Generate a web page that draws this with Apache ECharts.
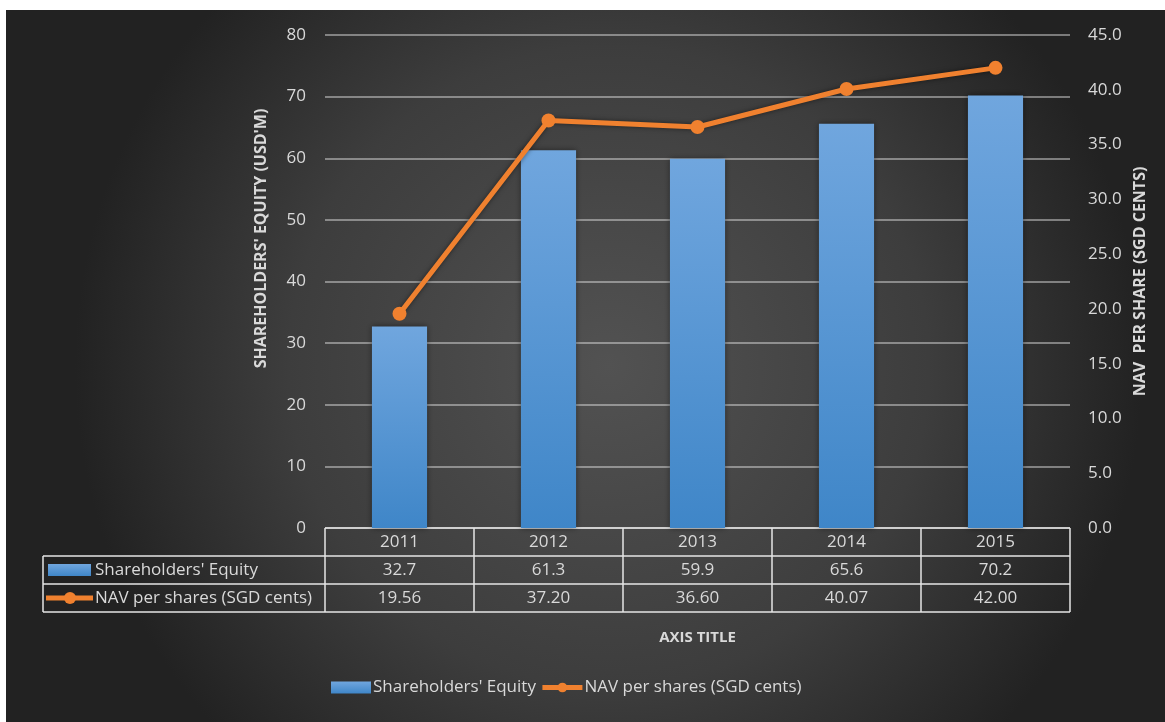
<!DOCTYPE html>
<html>
<head>
<meta charset="utf-8">
<script src="https://cdn.jsdelivr.net/npm/echarts@6/dist/echarts.min.js"></script>
<style>
  html, body { margin: 0; padding: 0; background: #fff; }
  #main { position: absolute; left: 6px; top: 10px; width: 1159px; height: 712px; }
</style>
</head>
<body>
<div id="main"></div>
<script>
const years = ['2011', '2012', '2013', '2014', '2015'];
const equity = [32.7, 61.3, 59.9, 65.6, 70.2];
const nav = [19.56, 37.20, 36.60, 40.07, 42.00];
const equityName = "Shareholders' Equity";
const navName = 'NAV per shares (SGD cents)';

const txt = '#d9d9d9';
const font = '"Open Sans", Lato, sans-serif';
const orange = '#f0812f';

const chartDom = document.getElementById('main');
const myChart = echarts.init(chartDom);

const gridLeft = 319, gridRight = 95, gridTop = 25, gridBottom = 194;
const rowH = 28;

const option = {
  backgroundColor: {
    type: 'radial', x: 0.52, y: 0.5, r: 0.75,
    colorStops: [
      { offset: 0, color: '#525252' },
      { offset: 0.6, color: '#3d3d3d' },
      { offset: 1, color: '#222222' }
    ]
  },
  textStyle: { fontFamily: font },
  grid: { left: gridLeft, right: gridRight, top: gridTop, bottom: gridBottom },
  legend: {
    bottom: 21,
    left: 320,
    itemWidth: 40,
    itemHeight: 12,
    itemGap: 4,
    textStyle: { color: txt, fontSize: 17, fontFamily: font, padding: [0, 0, 0, -3] },
    data: [
      { name: equityName, icon: 'rect' },
      { name: navName, lineStyle: { width: 5 } }
    ]
  },
  xAxis: {
    type: 'category',
    data: years,
    name: 'AXIS TITLE',
    nameLocation: 'middle',
    nameGap: 102,
    nameTextStyle: { color: txt, fontWeight: 'bold', fontSize: 15 },
    axisLine: { show: false },
    axisTick: { show: false },
    axisLabel: { show: false }
  },
  yAxis: [
    {
      type: 'value',
      min: 0, max: 80, interval: 10,
      name: "SHAREHOLDERS' EQUITY (USD'M)",
      nameLocation: 'middle',
      nameGap: 56,
      nameRotate: 90,
      nameTextStyle: { color: txt, fontWeight: 'bold', fontSize: 16, padding: [0, 0, 0, 86] },
      axisLabel: { color: txt, fontSize: 17, margin: 19 },
      splitLine: { lineStyle: { color: 'rgba(235,235,235,0.6)', width: 1.5 } }
    },
    {
      type: 'value',
      min: 0, max: 45, interval: 5,
      name: 'NAV  PER SHARE (SGD CENTS)',
      nameLocation: 'middle',
      nameGap: 60,
      nameRotate: 90,
      nameTextStyle: { color: txt, fontWeight: 'bold', fontSize: 16 },
      axisLabel: { color: txt, fontSize: 17, margin: 18, formatter: v => v.toFixed(1) },
      splitLine: { show: false }
    }
  ],
  series: [
    {
      name: equityName,
      type: 'bar',
      barWidth: '37%',
      data: equity,
      itemStyle: {
        color: new echarts.graphic.LinearGradient(0, 0, 0, 1, [
          { offset: 0, color: '#70a6de' },
          { offset: 1, color: '#3f86c8' }
        ]),
        shadowBlur: 6,
        shadowColor: 'rgba(0,0,0,0.45)'
      }
    },
    {
      name: navName,
      type: 'line',
      yAxisIndex: 1,
      data: nav,
      symbol: 'circle',
      symbolSize: 14,
      lineStyle: { color: orange, width: 5, shadowBlur: 5, shadowColor: 'rgba(0,0,0,0.5)' },
      itemStyle: { color: orange }
    }
  ]
};
myChart.setOption(option);

// data table under the plot, placed from the category axis scale
const c0 = myChart.convertToPixel({ xAxisIndex: 0 }, years[0]);
const c1 = myChart.convertToPixel({ xAxisIndex: 0 }, years[1]);
const band = c1 - c0;
const tableTop = chartDom.clientHeight - gridBottom;
const tLeft = 37;
const plotL = c0 - band / 2;
const plotR = plotL + band * years.length;
const lineStyle = { stroke: '#e6e6e6', lineWidth: 1.5 };
const g = [];
function hline(x1, x2, y) { g.push({ type: 'line', shape: { x1, y1: y, x2, y2: y }, style: lineStyle, silent: true }); }
function vline(x, y1, y2) { g.push({ type: 'line', shape: { x1: x, y1, x2: x, y2 }, style: lineStyle, silent: true }); }
hline(plotL, plotR, tableTop);
hline(tLeft, plotR, tableTop + rowH);
hline(tLeft, plotR, tableTop + rowH * 2);
hline(tLeft, plotR, tableTop + rowH * 3);
vline(tLeft, tableTop + rowH, tableTop + rowH * 3);
for (let i = 0; i <= years.length; i++) vline(plotL + band * i, tableTop, tableTop + rowH * 3);
const rows = [years, equity.map(v => v.toFixed(1)), nav.map(v => v.toFixed(2))];
rows.forEach((r, ri) => {
  r.forEach((t, i) => {
    g.push({
      type: 'text', silent: true,
      x: myChart.convertToPixel({ xAxisIndex: 0 }, years[i]), y: tableTop + rowH * ri + rowH / 2,
      style: { text: t, fill: txt, font: '17px ' + font, align: 'center', verticalAlign: 'middle' }
    });
  });
});
// series keys in the table
const r1 = tableTop + rowH * 1.5, r2 = tableTop + rowH * 2.5;
g.push({ type: 'rect', silent: true, shape: { x: tLeft + 5, y: r1 - 6, width: 43, height: 12 },
  style: { fill: new echarts.graphic.LinearGradient(0, 0, 0, 1, [{ offset: 0, color: '#70a6de' }, { offset: 1, color: '#3f86c8' }]) } });
g.push({ type: 'line', silent: true, shape: { x1: tLeft + 3, y1: r2, x2: tLeft + 50, y2: r2 }, style: { stroke: orange, lineWidth: 5 } });
g.push({ type: 'circle', silent: true, shape: { cx: tLeft + 27, cy: r2, r: 6 }, style: { fill: orange } });
g.push({ type: 'text', silent: true, x: tLeft + 52, y: r1, style: { text: equityName, fill: txt, font: '17px ' + font, verticalAlign: 'middle' } });
g.push({ type: 'text', silent: true, x: tLeft + 52, y: r2, style: { text: navName, fill: txt, font: '17px ' + font, verticalAlign: 'middle' } });
myChart.setOption({ graphic: g });
</script>
</body>
</html>
